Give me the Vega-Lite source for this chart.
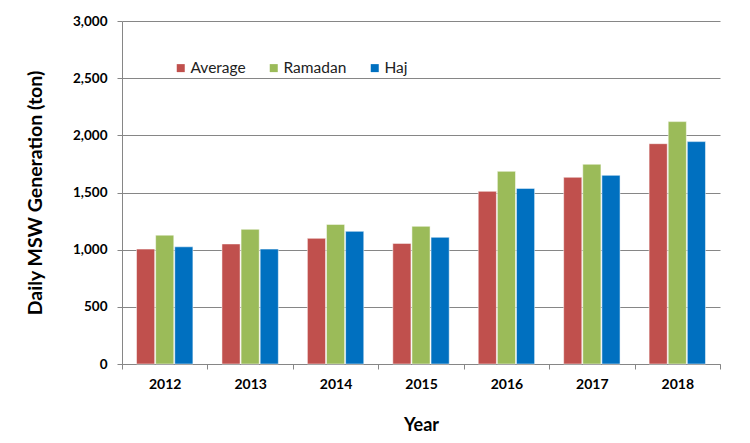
{
  "$schema": "https://vega.github.io/schema/vega-lite/v6.json",
  "width": 598,
  "height": 343,
  "autosize": {"type": "none"},
  "padding": {"left": 122, "top": 21, "right": 30, "bottom": 79},
  "background": "white",
  "config": {
    "font": "Lato",
    "view": {"stroke": null}
  },
  "data": {
    "values": [
      {"Year": "2012", "Period": "Average", "MSW": 1005},
      {"Year": "2012", "Period": "Ramadan", "MSW": 1127},
      {"Year": "2012", "Period": "Haj", "MSW": 1025},
      {"Year": "2013", "Period": "Average", "MSW": 1050},
      {"Year": "2013", "Period": "Ramadan", "MSW": 1178},
      {"Year": "2013", "Period": "Haj", "MSW": 1005},
      {"Year": "2014", "Period": "Average", "MSW": 1099},
      {"Year": "2014", "Period": "Ramadan", "MSW": 1221},
      {"Year": "2014", "Period": "Haj", "MSW": 1160},
      {"Year": "2015", "Period": "Average", "MSW": 1055},
      {"Year": "2015", "Period": "Ramadan", "MSW": 1204},
      {"Year": "2015", "Period": "Haj", "MSW": 1108},
      {"Year": "2016", "Period": "Average", "MSW": 1510},
      {"Year": "2016", "Period": "Ramadan", "MSW": 1685},
      {"Year": "2016", "Period": "Haj", "MSW": 1536},
      {"Year": "2017", "Period": "Average", "MSW": 1633},
      {"Year": "2017", "Period": "Ramadan", "MSW": 1747},
      {"Year": "2017", "Period": "Haj", "MSW": 1650},
      {"Year": "2018", "Period": "Average", "MSW": 1927},
      {"Year": "2018", "Period": "Ramadan", "MSW": 2120},
      {"Year": "2018", "Period": "Haj", "MSW": 1945}
    ]
  },
  "mark": {"type": "bar", "stroke": "white", "strokeWidth": 0.5},
  "encoding": {
    "x": {
      "field": "Year",
      "type": "nominal",
      "scale": {"paddingInner": 0, "paddingOuter": 0},
      "axis": {
        "title": "Year",
        "titleFontSize": 18,
        "titleFontWeight": "bold",
        "titleColor": "black",
        "titlePadding": 25,
        "labelAngle": 0,
        "labelFontSize": 14,
        "labelFontWeight": "bold",
        "labelColor": "black",
        "labelPadding": 8,
        "tickBand": "extent",
        "tickSize": 5,
        "tickColor": "#868686",
        "domainColor": "#868686",
        "grid": false
      }
    },
    "xOffset": {
      "field": "Period",
      "type": "nominal",
      "sort": ["Average", "Ramadan", "Haj"],
      "scale": {"paddingInner": 0.05, "paddingOuter": 0.76}
    },
    "y": {
      "field": "MSW",
      "type": "quantitative",
      "scale": {"domain": [0, 3000]},
      "axis": {
        "title": "Daily MSW Generation (ton)",
        "titleFontSize": 19.5,
        "titleFontWeight": "bold",
        "titleColor": "black",
        "titlePadding": 27,
        "values": [0, 500, 1000, 1500, 2000, 2500, 3000],
        "format": ",.0f",
        "labelFontSize": 13.5,
        "labelFontWeight": "bold",
        "labelColor": "black",
        "labelPadding": 10,
        "tickSize": 5,
        "tickColor": "#868686",
        "domainColor": "#868686",
        "gridColor": "#868686",
        "gridWidth": 1
      }
    },
    "color": {
      "field": "Period",
      "type": "nominal",
      "sort": ["Average", "Ramadan", "Haj"],
      "scale": {
        "domain": ["Average", "Ramadan", "Haj"],
        "range": ["#C0504D", "#9BBB59", "#0070C0"]
      },
      "legend": {
        "title": null,
        "orient": "none",
        "legendX": 51,
        "legendY": 39,
        "direction": "horizontal",
        "symbolType": "square",
        "symbolSize": 64,
        "symbolStrokeWidth": 0,
        "labelFontSize": 15.5,
        "labelColor": "#222222",
        "labelOffset": 2,
        "columnPadding": 20
      }
    }
  }
}
